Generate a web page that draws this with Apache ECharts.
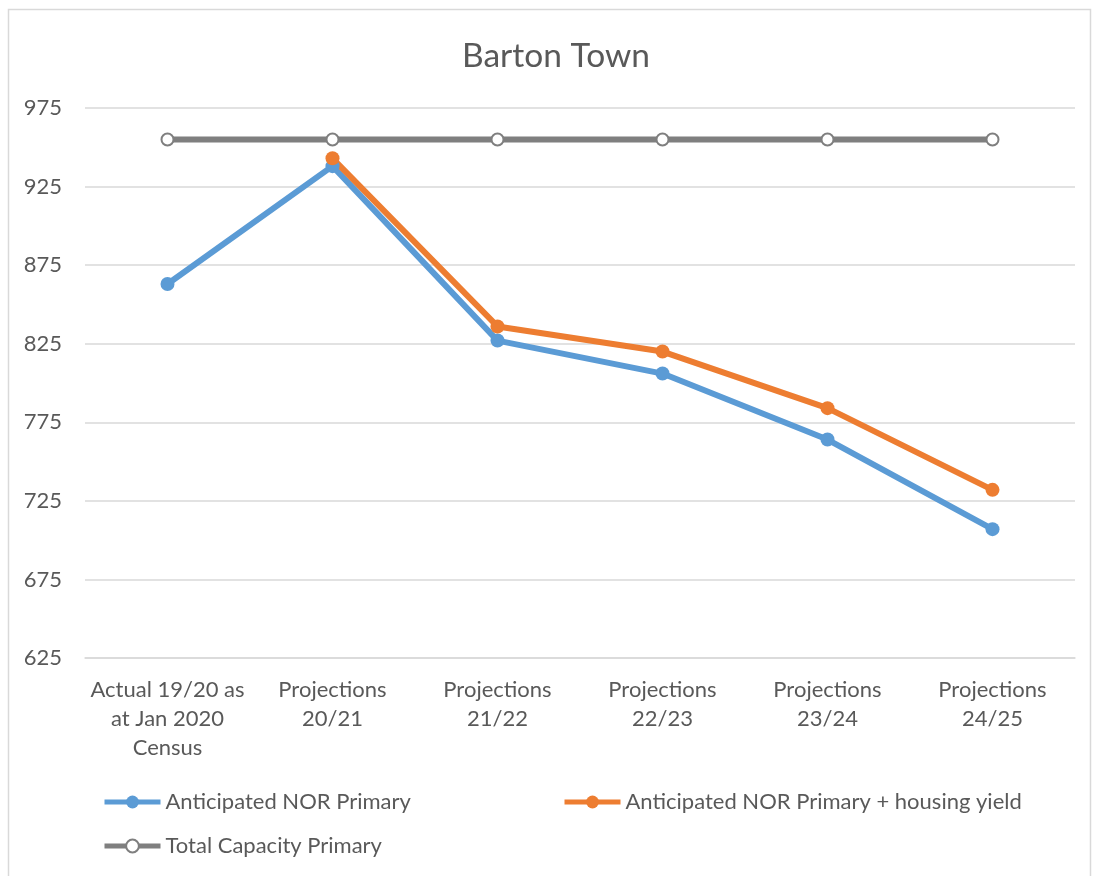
<!DOCTYPE html>
<html>
<head>
<meta charset="utf-8">
<script src="https://cdn.jsdelivr.net/npm/echarts@6/dist/echarts.min.js"></script>
<style>html,body{margin:0;padding:0;background:#fff}#c{width:1096px;height:876px}</style>
</head>
<body>
<div id="c"></div>
<script>
const title = 'Barton Town';
const categories = ['Actual 19/20 as\nat Jan 2020\nCensus', 'Projections\n20/21', 'Projections\n21/22', 'Projections\n22/23', 'Projections\n23/24', 'Projections\n24/25'];
const seriesNames = ['Anticipated NOR Primary', 'Anticipated NOR Primary + housing yield', 'Total Capacity Primary'];
const norPrimary = [863, 938, 827, 806, 764, 707];
const norHousing = [null, 943, 836, 820, 784, 732];
const capacity = [955, 955, 955, 955, 955, 955];
const yTicks = [625, 675, 725, 775, 825, 875, 925, 975];

const font = 'Lato, "Open Sans", sans-serif';
const txt = '#595959';
const legendCommon = {
  itemWidth: 56, itemHeight: 16,
  lineStyle: { width: 5 },
  textStyle: { fontFamily: font, fontSize: 22, color: txt }
};
const chart = echarts.init(document.getElementById('c'));
chart.setOption({
  animation: false,
  backgroundColor: '#fff',
  graphic: [{
    type: 'rect', shape: { x: 8.5, y: 9.5, width: 1082, height: 900 },
    style: { fill: 'none', stroke: '#d9d9d9', lineWidth: 1.5 }, silent: true
  }],
  title: {
    text: title, left: 551, top: 34, textAlign: 'center',
    textStyle: { fontFamily: font, fontSize: 33.5, fontWeight: 'normal', color: txt }
  },
  grid: { left: 85, right: 21, top: 108, bottom: 218, containLabel: false },
  legend: [
    Object.assign({ data: [seriesNames[0]], left: 97, top: 786 }, legendCommon),
    Object.assign({ data: [seriesNames[1]], left: 557, top: 786 }, legendCommon),
    Object.assign({ data: [seriesNames[2]], left: 97, top: 830 }, legendCommon)
  ],
  xAxis: {
    type: 'category', data: categories, boundaryGap: true,
    axisLine: { lineStyle: { color: '#d9d9d9', width: 1.5 } },
    axisTick: { show: false },
    axisLabel: { interval: 0, margin: 17, fontFamily: font, fontSize: 22, lineHeight: 29, color: txt }
  },
  yAxis: [{
    type: 'value', min: yTicks[0], max: yTicks[yTicks.length - 1], interval: 25,
    axisLine: { show: false }, axisTick: { show: false }, splitLine: { show: false },
    axisLabel: {
      margin: 23, fontFamily: font, fontSize: 22, color: txt,
      formatter: v => (yTicks.indexOf(v) >= 0 ? String(v) : '')
    }
  }, {
    type: 'value', min: 0, max: yTicks.length - 1, interval: 1, position: 'left',
    axisLine: { show: false }, axisTick: { show: false }, axisLabel: { show: false },
    splitLine: { show: true, lineStyle: { color: '#d9d9d9', width: 1.5 } }
  }],
  series: [{
    name: seriesNames[0], type: 'line', data: norPrimary, yAxisIndex: 0,
    symbol: 'circle', symbolSize: 14,
    lineStyle: { color: '#5B9BD5', width: 6 }, itemStyle: { color: '#5B9BD5' }
  }, {
    name: seriesNames[1], type: 'line', data: norHousing, yAxisIndex: 0,
    symbol: 'circle', symbolSize: 14,
    lineStyle: { color: '#ED7D31', width: 6 }, itemStyle: { color: '#ED7D31' }
  }, {
    name: seriesNames[2], type: 'line', data: capacity, yAxisIndex: 0,
    symbol: 'emptyCircle', symbolSize: 12,
    lineStyle: { color: '#7F7F7F', width: 6 },
    itemStyle: { color: '#7F7F7F', borderColor: '#7F7F7F', borderWidth: 2 }
  }]
});
</script>
</body>
</html>
